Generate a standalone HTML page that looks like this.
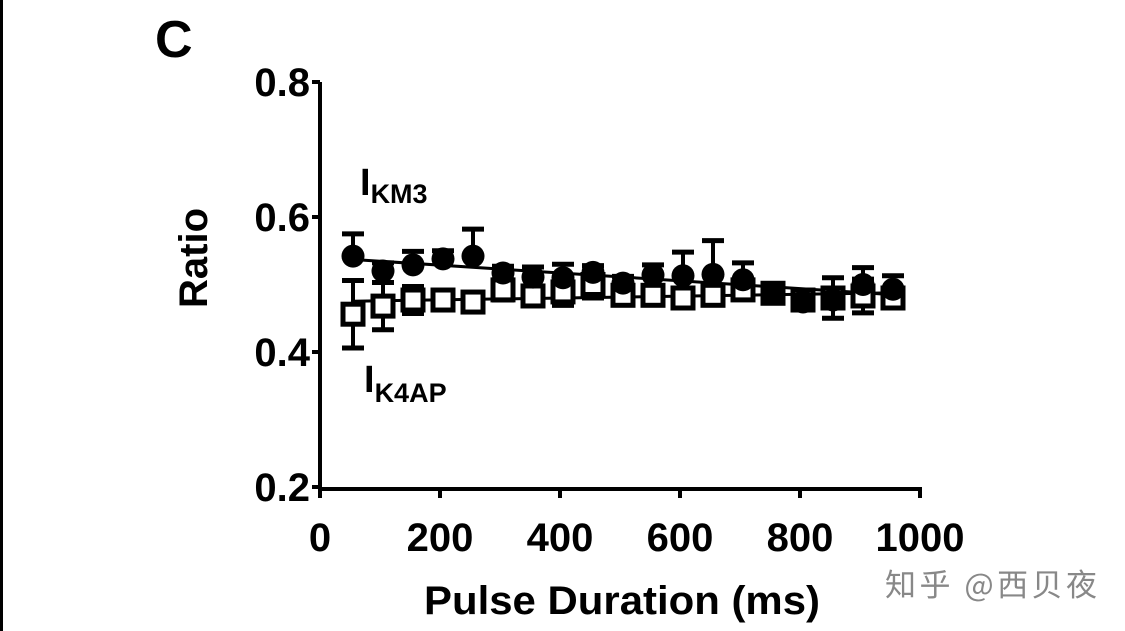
<!DOCTYPE html>
<html><head><meta charset="utf-8"><style>
body{margin:0;background:#fff;}
svg{display:block;font-family:"Liberation Sans",Arial,sans-serif;font-weight:bold;}
</style></head><body>
<svg width="1125" height="631" xmlns="http://www.w3.org/2000/svg">
<rect x="0" y="0" width="3" height="631" fill="#000"/>
<text x="155" y="57" font-size="52">C</text>
<g id="axes"></g>
<g id="marks"></g>
<text x="207" y="258" font-size="40" text-anchor="middle" transform="rotate(-90 207 258)">Ratio</text>
<text x="622" y="614" font-size="40" text-anchor="middle" textLength="396" lengthAdjust="spacingAndGlyphs">Pulse Duration (ms)</text>
<text x="360" y="195" font-size="38">I<tspan font-size="27" dy="8">KM3</tspan></text>
<text x="364" y="392" font-size="38">I<tspan font-size="27" dy="10">K4AP</tspan></text>
<text x="885" y="596" font-size="31" font-weight="normal" fill="#888" textLength="212" font-family="'Noto Sans CJK SC',sans-serif">知乎 @西贝夜</text>
</svg>
<script>
const xs=[55,105,155,205,255,305,355,405,455,505,555,605,655,705,755,805,855,905,955];
const km3=[0.542,0.52,0.529,0.538,0.542,0.517,0.511,0.51,0.518,0.502,0.514,0.513,0.515,0.507,0.487,0.474,0.477,0.5,0.493];
const km3Err=[0.033,0.012,0.02,0.012,0.04,0.01,0.015,0.02,0.01,0.01,0.015,0.035,0.05,0.025,0.01,0.01,0.01,0.025,0.02];
const k4ap=[0.456,0.468,0.477,0.477,0.474,0.492,0.483,0.489,0.5,0.484,0.484,0.48,0.484,0.492,0.487,0.477,0.48,0.483,0.48];
const k4apErr=[0.05,0.035,0.02,0.01,0.01,0.015,0.01,0.02,0.02,0.01,0.01,0.01,0.01,0.01,0.01,0.01,0.03,0.025,0.01];
const xTicks=[0,200,400,600,800,1000];
const yTicks=[0.2,0.4,0.6,0.8];
const X=v=>320+v*0.6, Y=v=>487-(v-0.2)*675;
const NS="http://www.w3.org/2000/svg";
function mk(p,t,a){const e=document.createElementNS(NS,t);for(const k in a)e.setAttribute(k,a[k]);p.appendChild(e);return e;}
const ax=document.getElementById('axes'), mg=document.getElementById('marks');
const yl=mk(ax,'line',{x1:320,y1:Y(0.8),x2:320,y2:Y(0.2)+3,stroke:'#000','stroke-width':4});


const xl=mk(ax,'line',{x1:318,y1:489,x2:X(1000)+2,y2:489,stroke:'#000','stroke-width':4});


yTicks.forEach(v=>{
 mk(ax,'line',{x1:312,y1:Y(v),x2:320,y2:Y(v),stroke:'#000','stroke-width':4});
 const t=mk(ax,'text',{x:310,y:Y(v)+14,'font-size':40,'text-anchor':'end'});t.textContent=v.toFixed(1);
 
 
});
xTicks.forEach(v=>{
 mk(ax,'line',{x1:X(v),y1:489,x2:X(v),y2:498,stroke:'#000','stroke-width':4});
 const t=mk(ax,'text',{x:X(v),y:551,'font-size':40,'text-anchor':'middle'});t.textContent=v;
 
 
});
function fit(ys){const n=xs.length;let mx=0,my=0;xs.forEach((x,i)=>{mx+=x;my+=ys[i]});mx/=n;my/=n;let sxy=0,sxx=0;xs.forEach((x,i)=>{sxy+=(x-mx)*(ys[i]-my);sxx+=(x-mx)**2});const b=sxy/sxx;return x=>my+b*(x-mx);}
[[km3,'km3-fit-line'],[k4ap,'k4ap-fit-line']].forEach(([ys,nm])=>{const f=fit(ys);
 const l=mk(mg,'line',{x1:X(xs[0]),y1:Y(f(xs[0])),x2:X(xs[xs.length-1]),y2:Y(f(xs[xs.length-1])),stroke:'#000','stroke-width':3});
 
 });
xs.forEach((x,i)=>{
 const px=X(x);
 let g=mk(mg,'g',{});
 
 
 const up=Y(k4ap[i]+k4apErr[i]), dn=Y(k4ap[i]-k4apErr[i]);
 mk(g,'line',{x1:px,y1:up,x2:px,y2:dn,stroke:'#000','stroke-width':4});
 mk(g,'line',{x1:px-11,y1:up,x2:px+11,y2:up,stroke:'#000','stroke-width':5});
 mk(g,'line',{x1:px-11,y1:dn,x2:px+11,y2:dn,stroke:'#000','stroke-width':5});
 mk(g,'rect',{x:px-10,y:Y(k4ap[i])-10,width:20,height:20,fill:'#fff',stroke:'#000','stroke-width':5});
 g=mk(mg,'g',{});
 
 
 const u2=Y(km3[i]+km3Err[i]);
 mk(g,'line',{x1:px,y1:u2,x2:px,y2:Y(km3[i]),stroke:'#000','stroke-width':4});
 mk(g,'line',{x1:px-11,y1:u2,x2:px+11,y2:u2,stroke:'#000','stroke-width':5});
 mk(g,'circle',{cx:px,cy:Y(km3[i]),r:11.5,fill:'#000'});
});
</script>
</body></html>
